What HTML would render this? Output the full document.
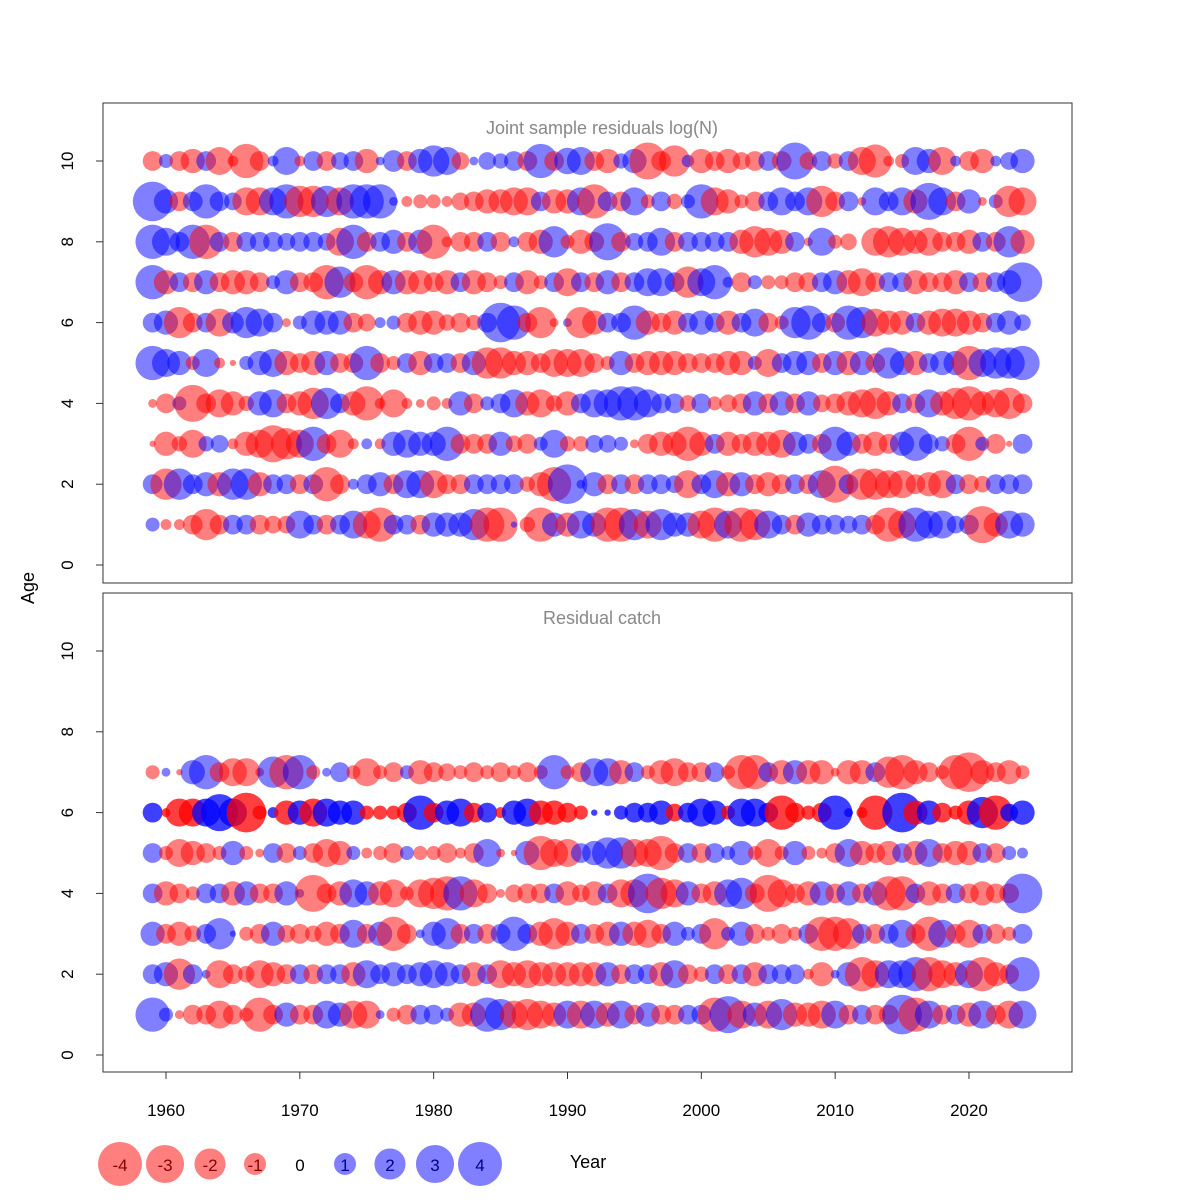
<!DOCTYPE html>
<html><head><meta charset="utf-8"><style>
html,body{margin:0;padding:0;background:#fff;width:1200px;height:1200px;overflow:hidden}
svg{display:block}
svg text{font-family:"Liberation Sans",sans-serif}
</style></head><body>
<svg id="chart" width="1200" height="1200" viewBox="0 0 1200 1200">
<rect width="1200" height="1200" fill="#fff"/>
</svg>
<script>
const years=[];for(let y=1959;y<=2024;y++)years.push(y);
const topAges=[10,9,8,7,6,5,4,3,2,1];
const top10=[-1,0.5,-1,-1.5,1,-2,-0.3,-3,-1,0.3,2,-0.3,1,-1,0.8,1,-1.5,0.2,1.2,-1,1.5,2.5,2,-0.8,0.2,0.8,0.6,1,-1,3,-1,1.8,2,-1,-1.5,0.6,1.5,-3.5,-1,-2.5,0.4,-1.5,-1,-1.5,-0.8,-1,1,-1,3.5,-0.8,1,-0.6,1,-2,-2.8,-0.3,-0.5,2,1.5,-2,0.3,-1,-1.5,0.3,0.8,1.5];
const top9=[4,1.5,-1,1,3,1,0.8,-2,-2,2,3,-2.5,-2.5,2.5,-2,3,3,3,0.2,-0.3,-0.5,-0.5,-0.3,-0.8,-1,-1.5,-1.5,-2,-2,1,-1.5,-1.5,2,-3,1,-1,2,-0.5,1,-0.6,0.5,3,-2,-1.5,-0.5,-1,1,2,1,2,-2.5,-1,1,-0.2,2,1,2,-1.5,3.5,2,-1,1.5,-0.2,0.5,-2.5,-2];
const top8=[3,2,1,3,-3,1,-1,1,1,1,0.8,1,1,0.8,-2,3,-1,1,1.5,-1,1.5,-3,-0.3,-1,-1,1,-1,0.3,-1,-1.5,2.5,-0.5,-1.5,-1,3.5,-1,0.8,1,2,-1,1,1,1,1,-1.5,-2.5,-2,-1.5,1,-0.2,2,-0.5,-0.7,0,-2,-2.5,-2,-1.5,-2,-1,-1,-1.5,1,-1,2.5,-1.5];
const top7=[3,-1.5,1,-1,1.5,-1,-1.5,-1.5,-1,0.5,1.5,-1,-1,-3,2.5,-1,-3,-1.5,1.5,-1.5,-1.5,-1,-1.5,1,-1.5,-1,-0.5,1,-1.5,-0.5,1,-2,1,-1,1.5,-1,1,2,2,1,-2.5,2,3,0.3,-1,0.5,-0.5,-0.5,-1,-1,1,1.5,-1.5,-2,-1,1,1,-1.5,-1,-1,-1.5,1,-1,1,1.5,4];
const top6=[1,1.5,-2.5,-1,1,-2,1.2,2.5,2,1,-0.2,0.5,1.5,1.5,1.5,-1,-0.8,0.3,0.5,-1,-1.5,-1.5,-0.7,-1,-0.6,1,4,3,-1,-2.5,-0.2,0.2,-2.5,-1.5,1,1,3,-1.5,-1,-1.5,1,1.5,1,-1.5,1,2,-1,-0.5,2.5,3,1,-1,3,2.5,-2,-1.5,-1.5,1,-1.5,-2,-2,-1.5,-1,1,1.5,0.7];
const top5=[3,2,1.5,-0.5,2,-0.3,-0.1,0.5,1.5,2,-1.5,-1,-1.5,1.5,-1,-1,3,-1,-0.5,1,-1.5,1,1,-1,1.5,-2.5,-2.5,-1.5,-1.5,-1,-2,-2,-2,-1,-0.5,1.5,-1,-1.5,-1.5,-1.5,-1,-1,-1,-1.5,-1.5,0.5,-2,1,1.5,1.5,-1,1.5,-1.5,1.5,-1,2.5,1.5,-1.5,1,1.5,1.5,-3,2,2.5,2.5,3];
const top4=[-0.2,-1,0.5,-3.5,-1,-2,-1.5,-0.6,1.5,2,-1,-1.5,-2.5,2.5,1,-1.5,-3,-0.3,-2,-0.3,-0.2,-0.5,-0.3,1.5,-1,0.5,1,2,-1.5,-2,-0.7,-1.5,1,2,2,3,3,2,1,1,-0.7,1,-0.5,-0.8,-1,1.5,-1,1.5,-1,1.5,-0.8,-1,-1.5,-2,-2.5,-1.5,1,-1,2,-1.5,-2.5,-3,-1.5,-2,-2.5,-1];
const top3=[-0.1,-1.5,-0.6,-2,0.6,0.8,-0.3,-1.5,-2,-3.5,-2.5,-2,3,-1,-2,-0.3,0.3,-0.3,1.5,2,1.5,1.5,3,-1,-1,-1,1.5,-0.7,-1,0.5,2,-0.6,-0.6,0.8,0.8,0.5,-0.2,-1,-1.5,-1.5,-3,-1.5,1,-1.5,-1,-1.5,-1.5,-2,1.5,1,-1,3,1.5,-1,-1.5,-1,1.5,3,1,0.6,-1,-3,0.5,-1,-0.1,1];
const top2=[1,-2.5,2.5,1,1.5,-1.5,2.5,2.5,-1.5,1,1,-1,1,-3,-1,0.3,1,1.5,-1,2,2,-2,-1,-1,1,1,1,1,-0.6,-1.5,-3,4,0.2,1.5,-1,1,-1,1,1,0.8,-2,1,2,-1.5,1.5,-1,-1.5,-1,1,-1,2,-3.5,1,-2.5,-2.5,-2,-2,-1,-1.5,-2,1,-1,-0.7,1,1,1];
const top1=[0.5,-0.3,-0.3,-1,-2.5,-1,1,1,-1,-0.8,-0.8,2,1,-1,1,2,-2,-3,1,1,-1,1.5,1.5,1.5,2.5,-3,-3,0.1,-0.6,-3,1.5,-1.5,2,1.5,-3,-3,2.5,-2,2.5,1.5,1.5,-2,-3,2,-3,-2.5,2,1,-1,1.5,1,1,0.8,1,-1,-3,-2,3,2,2,0.8,1,-3.5,-1.5,2,1.5];
const botAges=[7,6,5,4,3,2,1];
const bot7=[-0.5,0.2,-0.1,1.5,3,-1,-2,-2,-0.2,2.5,-3,3,-0.5,0.2,1,-0.5,-2,-0.5,-1,0.5,-1.5,-1,-0.8,-0.5,-1,-0.5,-1,-0.5,-1,-0.5,3,-0.5,-1,2,2,-1.5,1,-0.5,-1.5,-2,-1,-1,1,-0.5,-3,-3,1,-1.5,1.5,-1.5,-1.5,-0.2,-1.5,-1.5,1,-2.5,-3,-1.5,-1,-0.5,-3,-4,-1.5,-1,-1.5,-0.5];
const bot6=[1,-0.2,-2,-2,2,3.5,2,-4,-0.5,0.3,-1.5,1.5,-2,2,1.5,1.5,-0.5,-0.5,-0.5,-1,3,-1,1.5,2,-1,1,-0.3,1.5,2,-1.5,-1.5,-1,-0.5,0.1,0.1,0.5,1,1,1.5,-0.8,1,2,1.5,-0.5,2,2,1,-3,-1,-0.5,-1,3,0.2,-0.3,-3,0,4,-1.5,1.5,-1,-0.5,-1.5,2.5,-3,0.8,1.5];
const bot5=[1,-0.5,-2,-1.5,-1,-0.5,1.5,-0.5,-0.2,1,-1,0.5,-1,-2,-1.5,0.5,-0.3,-0.5,-1,0.5,-0.5,-0.5,-1,-0.3,-1,2,-0.2,-0.1,1.5,-3,-2,-2,1,1.5,2.5,2.5,-2,-2,-3,-1,1,-1,1,0.5,1.5,-0.5,-2,-0.5,1.5,-0.5,-0.3,-1,2,-1.5,-1,-1.5,1,-1.5,2,-1,-1.5,-1.5,1,-1,0.5,0.3];
const bot4=[1,-1.5,-1,-0.5,1,1,-1.5,1.5,-1,-1,1.5,0.2,-3.5,-1,-1.5,2,1.5,-1.5,-2,-0.5,-2,-2.5,-3,3,-2,-1,-0.2,-0.8,-1,-1,1,-1.5,-0.8,-1.5,1,-2,-2,4,-2.5,-2,1.5,-1,-1.5,2,2.5,-1,-3.5,-2,-1,-1.5,1.5,-1,1.5,-1,1.5,-3,-3,1,-1.5,-1,1,-1,-1.5,-1,-1,4];
const bot3=[1.5,-1,-1.5,-0.7,1,2.5,0.1,-0.5,-1,1.5,-0.8,-1,-0.7,-1.5,-1,2,-1,1.5,-3,-1,0.2,1.5,2.5,-1,1,-1,1,3,1,-1.5,-2.5,-1.5,1,-1,-1.5,1.5,-1.5,-2,-1,1.5,0.5,1,-2.5,0.5,1.5,-1,-0.5,-1,-0.5,1,-3,-3,-2.5,1,-1,1,2,-1,-3,2,-1,-2,1,-1,-0.5,1];
const bot2=[1,1.5,-2.5,1,0.2,-2,-1,-0.7,-2,-1.5,-1,1,-1,1,1,-1.5,2,1,1.5,1,1.5,2,1.5,1,-1.5,1,-2,-1.5,-2,-1.5,-1.5,-1.5,-1.5,-1.5,1.5,-1,1,1,-1.5,2,-1,-0.6,1,-1,1,-1.5,1,1,1,-0.3,-1.5,0.2,1.5,-3,-2,2,2,3,-3,-2,-1.5,2,-3,-1.5,-1,3];
const bot1=[3,0.5,-0.2,-1,-1,-2,-1,-0.5,-3,-1,1.5,-1,-1,2,1.5,-2,-2,0.2,-0.5,-1,1,1,0.5,-1.5,-1.5,3,2.5,-2,-2.5,-2,-1.5,2,-2,2,-1.5,2,-1,1.5,-1,-1,1,1,-3,3.5,-2,1.5,-2,2.5,-1.5,-1.5,-2,2,-1,1,-1,-1,4,-3,2,-1,1,-1.5,2,-1,-2,2];
const topRows=[top10,top9,top8,top7,top6,top5,top4,top3,top2,top1];
const botRows=[bot7,bot6,bot5,bot4,bot3,bot2,bot1];
const yTicks=[0,2,4,6,8,10];
const xTicks=[1960,1970,1980,1990,2000,2010,2020];
const legendVals=[-4,-3,-2,-1,0,1,2,3,4];

const NS='http://www.w3.org/2000/svg';
const svg=document.getElementById('chart');
function mk(tag,attrs,parent){const e=document.createElementNS(NS,tag);for(const k in attrs)e.setAttribute(k,attrs[k]);(parent||svg).appendChild(e);return e;}
const xS=y=>166+(y-1960)*13.383;
const yTop=a=>565-a*40.4;
const yBot=a=>1055-a*40.4;
const rS=v=>11*Math.sqrt(Math.abs(v));
const col=v=>v<0?'rgba(255,0,0,0.5)':'rgba(0,0,255,0.5)';

function panel(name,y0,y1,yf,title,ages,rows,opaqueAge){
  const g=mk('g',{});
  
  
  const box=mk('rect',{x:103,y:y0,width:969,height:y1-y0,fill:'none',stroke:'#333','stroke-width':1},g);
  
  
  const t=mk('text',{x:602,y:y0+31,'text-anchor':'middle','font-size':18,fill:'#888'},g);
  t.textContent=title;
  
  
  yTicks.forEach(v=>{
    const yy=yf(v);
    const l=mk('line',{x1:96,x2:103,y1:yy,y2:yy,stroke:'#333'},g);
    
    
    const tx=mk('text',{x:73,y:yy,'text-anchor':'middle','font-size':17,transform:`rotate(-90 73 ${yy})`},g);
    tx.textContent=v;
    
    
  });
  const bg=mk('g',{},g);
  
  
  rows.forEach((row,ri)=>{
    const age=ages[ri];
    row.forEach((v,i)=>{
      if(i>=years.length||v===0)return;
      const reps=age===opaqueAge?2:1;
      for(let k=0;k<reps;k++){
        const c=mk('circle',{cx:xS(years[i]),cy:yf(age),r:rS(v)*0.9,fill:col(v)},bg);
        
        
      }
    });
  });
}
panel('joint-sample-panel',103,583,yTop,'Joint sample residuals log(N)',topAges,topRows,null);
panel('residual-catch-panel',593,1072,yBot,'Residual catch',botAges,botRows,6);

xTicks.forEach(v=>{
  const xx=xS(v);
  const l=mk('line',{x1:xx,x2:xx,y1:1072,y2:1079,stroke:'#333'});
  
  
  const t=mk('text',{x:xx,y:1116,'text-anchor':'middle','font-size':17});
  t.textContent=v;
  
  
});
const ax=mk('line',{x1:xS(1960),x2:xS(2020),y1:1072,y2:1072,stroke:'#333'});


const ya=mk('text',{x:34,y:588,'text-anchor':'middle','font-size':18,transform:'rotate(-90 34 588)'});
ya.textContent='Age';


const xa=mk('text',{x:588,y:1168,'text-anchor':'middle','font-size':18});
xa.textContent='Year';


legendVals.forEach((v,i)=>{
  const cx=120+i*45;
  if(v!==0){
    const c=mk('circle',{cx:cx,cy:1164,r:rS(v),fill:col(v)});
    
    
  }
  const t=mk('text',{x:cx,y:1171,'text-anchor':'middle','font-size':17,fill:v<0?'#800':(v>0?'#008':'#000')});
  t.textContent=v;
  
  
});
</script>
</body></html>
